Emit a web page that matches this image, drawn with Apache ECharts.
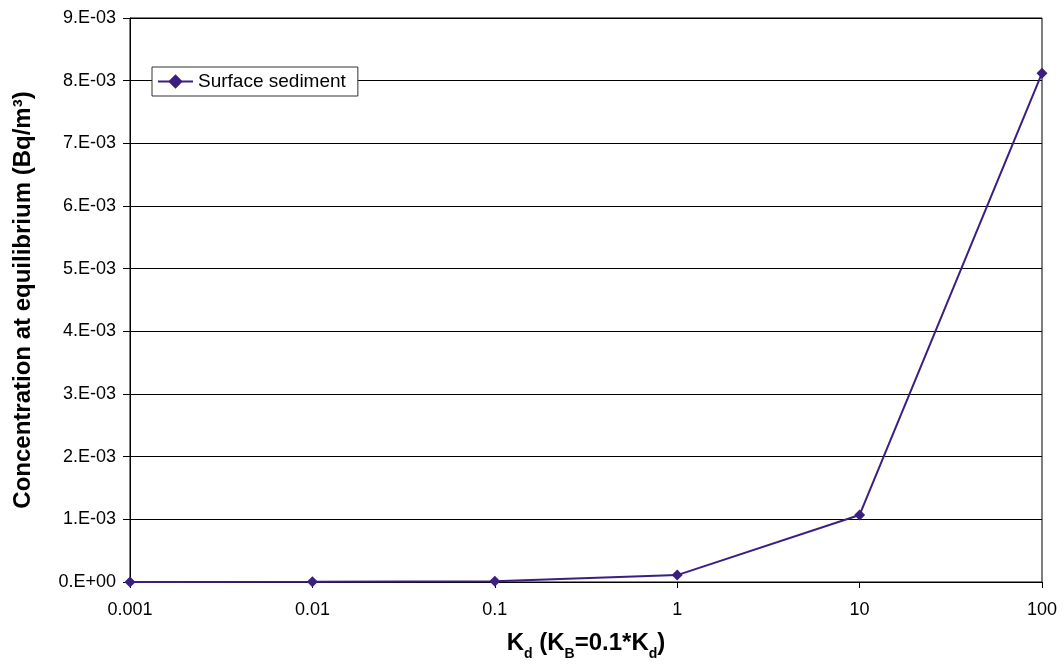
<!DOCTYPE html>
<html><head><meta charset="utf-8">
<script src="https://cdn.jsdelivr.net/npm/echarts@6/dist/echarts.min.js"></script>
<style>html,body{margin:0;padding:0;background:#fff}#c{width:1064px;height:666px}</style>
</head><body><div id="c"></div>
<script>
const categories = ['0.001', '0.01', '0.1', '1', '10', '100'];
const seriesName = 'Surface sediment';
const values = [0.000001, 0.000002, 0.000011, 0.00011, 0.00107, 0.00812];
const yTicks = [0, 0.001, 0.002, 0.003, 0.004, 0.005, 0.006, 0.007, 0.008, 0.009];

const color = '#3b1e80';
const font = '"Liberation Sans", Arial, sans-serif';
const chart = echarts.init(document.getElementById('c'), null, {renderer: 'canvas'});
chart.setOption({
  animation: false,
  backgroundColor: '#fff',
  grid: {left: 130, right: 22, top: 18, bottom: 83, show: true, borderColor: '#000', borderWidth: 1},
  legend: {
    show: true, left: 152, top: 67, orient: 'horizontal',
    backgroundColor: '#fff', borderColor: '#333', borderWidth: 1,
    padding: [5, 12, 5, 5], itemWidth: 35, itemHeight: 18, itemGap: 4,
    textStyle: {fontFamily: font, fontSize: 19, color: '#000'},
    data: [{name: seriesName}]
  },
  xAxis: {
    type: 'category', data: categories, boundaryGap: false,
    axisLine: {lineStyle: {color: '#000', width: 1}},
    axisTick: {show: true, alignWithLabel: true, length: 6, lineStyle: {color: '#000'}},
    axisLabel: {fontFamily: font, fontSize: 18, color: '#000', margin: 19},
    splitLine: {show: false},
    name: '{b|K}{s|d}{b| (K}{s|B}{b|=0.1*K}{s|d}{b|)}',
    nameLocation: 'middle', nameGap: 47,
    nameTextStyle: {
      rich: {
        b: {fontFamily: font, fontSize: 24, fontWeight: 'bold', color: '#000', lineHeight: 26, verticalAlign: 'bottom'},
        s: {fontFamily: font, fontSize: 14, fontWeight: 'bold', color: '#000', lineHeight: 26, verticalAlign: 'bottom', padding: [0, 0, -6, 0]}
      }
    }
  },
  yAxis: {
    type: 'value', min: 0, max: 0.009, interval: 0.001,
    axisLine: {show: true, lineStyle: {color: '#000', width: 1}},
    axisTick: {show: true, length: 7, lineStyle: {color: '#000'}},
    axisLabel: {
      fontFamily: font, fontSize: 18, color: '#000', margin: 14,
      formatter: v => {
        const i = yTicks.findIndex(t => Math.abs(t - v) < 1e-9);
        const t = i >= 0 ? yTicks[i] : v;
        return t === 0 ? '0.E+00' : Math.round(t * 1000) + '.E-03';
      }
    },
    splitLine: {show: true, lineStyle: {color: '#000', width: 1}},
    name: 'Concentration at equilibrium (Bq/m³)',
    nameLocation: 'middle', nameGap: 95, nameRotate: 90,
    nameTextStyle: {fontFamily: font, fontSize: 24, fontWeight: 'bold', color: '#000'}
  },
  series: [{
    name: seriesName, type: 'line', data: values,
    symbol: 'diamond', symbolSize: 11,
    lineStyle: {color: color, width: 2},
    itemStyle: {color: color},
    z: 3
  }]
});
</script></body></html>
